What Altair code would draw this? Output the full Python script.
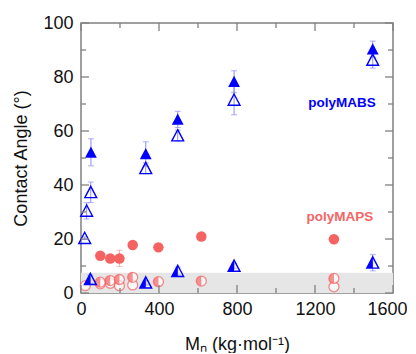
import altair as alt
import pandas as pd

# ---------------- data ----------------
mabs_adv_x = [51, 332, 496, 785, 1496]
mabs_adv_y = [52.1, 51.5, 64.3, 78.3, 90.3]
mabs_adv_e = [5.0, 4.5, 3.0, 4.0, 3.0]

mabs_rec_x = [19, 29, 50, 332, 496, 785, 1496]
mabs_rec_y = [20.3, 30.4, 37.3, 46.2, 58.3, 71.5, 86.3]
mabs_rec_e = [0.5, 3.0, 3.8, 2.0, 2.0, 5.5, 3.0]

mabs_st_x = [48, 332, 496, 785, 1496]
mabs_st_y = [5.1, 3.8, 8.1, 10.0, 11.2]
mabs_st_e = [1.5, 0.8, 1.5, 1.0, 3.0]

maps_adv_x = [99, 150, 197, 265, 397, 617, 1297]
maps_adv_y = [13.8, 12.8, 12.8, 17.8, 16.9, 20.9, 19.9]
maps_adv_e = [0.5, 0.8, 3.0, 0.5, 0.5, 0.5, 0.8]

maps_st_x = [99, 150, 197, 265, 397, 617, 1297]
maps_st_y = [4.0, 4.6, 5.0, 5.8, 4.2, 4.4, 5.4]

maps_rec_x = [22, 99, 150, 197, 265, 1297]
maps_rec_y = [2.7, 3.4, 3.6, 2.7, 3.0, 2.3]

band_x = [0, 1600]
band_y = [0, 7.5]

x_major = [0, 400, 800, 1200, 1600]
x_minor = [200, 600, 1000, 1400]
y_major = [0, 20, 40, 60, 80, 100]
y_minor = [10, 30, 50, 70, 90]

labels_text = ["polyMABS", "polyMAPS"]
labels_x = [1339, 1328]
labels_y = [70.4, 28.1]
labels_color = ["#0000ff", "#f56565"]

# ---------------- styling ----------------
W, H = 312, 270
RIGHT_PAD = 14
BLUE = "#0000ff"
RED = "#f56262"
BLUE_ERR = "#8c8cff"
RED_ERR = "#f8a8a8"
FRAME = "#808080"
FONT = "Liberation Sans"

TRI = "M0,-1L1,0.9L-1,0.9Z"
TRI_LEFT = "M0,-1L0,0.9L-1,0.9Z"
CIRC_LEFT = "M0,-1A1,1 0 0,0 0,1Z"

xs = alt.Scale(domain=[0, 1600], nice=False, zero=False)
ys = alt.Scale(domain=[0, 100], nice=False, zero=False)


def df(x, y, e=None):
    d = pd.DataFrame({"x": x, "y": y})
    if e is not None:
        d["lo"] = [a - b for a, b in zip(y, e)]
        d["hi"] = [a + b for a, b in zip(y, e)]
    return d


last_tick = f"datum.value == {x_major[-1]}"
X = alt.X("x:Q", scale=xs,
          axis=alt.Axis(values=x_major, format="d", labelFlush=False, labelOverlap=False,
                        labelAlign={"condition": {"test": last_tick, "value": "right"}, "value": "center"},
                        labelOffset={"condition": {"test": last_tick, "value": RIGHT_PAD}, "value": 0},
                        ticks=False, tickSize=0, domain=False, grid=False,
                        labelPadding=7, labelFontSize=18, labelFont=FONT, labelColor="#111",
                        title="Mₙ (kg·mol⁻¹)", titleFont=FONT, titleFontSize=18,
                        titleFontWeight="normal", titleColor="#111", titlePadding=17))
Y = alt.Y("y:Q", scale=ys,
          axis=alt.Axis(values=y_major, format="d", labelFlush=False, labelOverlap=False,
                        ticks=False, tickSize=0, domain=False, grid=False,
                        labelPadding=8, labelFontSize=18, labelFont=FONT, labelColor="#111",
                        title="Contact Angle (°)", titleFont=FONT, titleFontSize=18,
                        titleFontWeight="normal", titleColor="#111", titlePadding=12))

# gray band
band = alt.Chart(pd.DataFrame({"x": [band_x[0]], "x2": [band_x[1]],
                               "y": [band_y[0]], "y2": [band_y[1]]})).mark_rect(
    color="#e6e6e6").encode(x=X, x2="x2:Q", y=Y, y2="y2:Q")


def errbars(d, color):
    r = alt.Chart(d).mark_rule(color=color, strokeWidth=1).encode(
        x=alt.X("x:Q", scale=xs), y=alt.Y("lo:Q", scale=ys), y2="hi:Q")
    t1 = alt.Chart(d).mark_tick(color=color, thickness=1, size=6, orient="horizontal").encode(
        x=alt.X("x:Q", scale=xs), y=alt.Y("lo:Q", scale=ys))
    t2 = alt.Chart(d).mark_tick(color=color, thickness=1, size=6, orient="horizontal").encode(
        x=alt.X("x:Q", scale=xs), y=alt.Y("hi:Q", scale=ys))
    return [r, t1, t2]


d_mabs_adv = df(mabs_adv_x, mabs_adv_y, mabs_adv_e)
d_mabs_rec = df(mabs_rec_x, mabs_rec_y, mabs_rec_e)
d_mabs_st = df(mabs_st_x, mabs_st_y, mabs_st_e)
d_maps_adv = df(maps_adv_x, maps_adv_y, maps_adv_e)
d_maps_st = df(maps_st_x, maps_st_y)
d_maps_rec = df(maps_rec_x, maps_rec_y)

layers = [band]
layers += errbars(d_mabs_adv, BLUE_ERR)
layers += errbars(d_mabs_rec, BLUE_ERR)
layers += errbars(d_mabs_st, BLUE_ERR)
layers += errbars(d_maps_adv, RED_ERR)

PX = alt.X("x:Q", scale=xs)
PY = alt.Y("y:Q", scale=ys)

CS = 100   # circle size
TS = 140   # triangle size

# polyMAPS circles
layers.append(alt.Chart(d_maps_rec).mark_point(shape="circle", size=CS, filled=True, fill="white",
                                               stroke=RED, strokeWidth=1.3).encode(x=PX, y=PY))
layers.append(alt.Chart(d_maps_st).mark_point(shape="circle", size=CS, filled=True, fill="white",
                                              stroke=RED, strokeWidth=1.3).encode(x=PX, y=PY))
layers.append(alt.Chart(d_maps_st).mark_point(shape=CIRC_LEFT, size=CS, filled=True, fill=RED,
                                              strokeWidth=0).encode(x=PX, y=PY))
layers.append(alt.Chart(d_maps_adv).mark_point(shape="circle", size=CS + 10, filled=True, fill=RED,
                                               opacity=1).encode(x=PX, y=PY))

# polyMABS triangles
layers.append(alt.Chart(d_mabs_rec).mark_point(shape=TRI, size=TS, filled=False, stroke=BLUE,
                                               strokeWidth=1.4, opacity=1).encode(x=PX, y=PY))
layers.append(alt.Chart(d_mabs_st).mark_point(shape=TRI_LEFT, size=TS, filled=True, fill=BLUE,
                                              strokeWidth=0, opacity=1).encode(x=PX, y=PY))
layers.append(alt.Chart(d_mabs_st).mark_point(shape=TRI, size=TS, filled=False, stroke=BLUE,
                                              strokeWidth=1.4, opacity=1).encode(x=PX, y=PY))
layers.append(alt.Chart(d_mabs_adv).mark_point(shape=TRI, size=TS, filled=True, fill=BLUE,
                                               opacity=1).encode(x=PX, y=PY))

# series labels
lab = pd.DataFrame({"t": labels_text, "x": labels_x, "y": labels_y, "c": labels_color})
layers.append(alt.Chart(lab).mark_text(font=FONT, fontSize=13.5, fontWeight="bold").encode(
    x=PX, y=PY, text="t:N", color=alt.Color("c:N", scale=None)))

# inward ticks (frame)
tk = dict(color=FRAME, strokeWidth=1.3)
xmaj = pd.DataFrame({"x": x_major})
xmin = pd.DataFrame({"x": x_minor})
ymaj = pd.DataFrame({"y": y_major})
ymin = pd.DataFrame({"y": y_minor})
for d, L in [(xmaj, 8), (xmin, 5)]:
    layers.append(alt.Chart(d).mark_rule(**tk).encode(x=PX, y=alt.value(H), y2=alt.value(H - L)))
    layers.append(alt.Chart(d).mark_rule(**tk).encode(x=PX, y=alt.value(0), y2=alt.value(L)))
for d, L in [(ymaj, 8), (ymin, 5)]:
    layers.append(alt.Chart(d).mark_rule(**tk).encode(y=PY, x=alt.value(0), x2=alt.value(L)))
    layers.append(alt.Chart(d).mark_rule(**tk).encode(y=PY, x=alt.value(W), x2=alt.value(W - L)))

chart = alt.layer(*layers).properties(
    width=W, height=H,
    autosize=alt.AutoSizeParams(type="none"),
    padding={"left": 73, "top": 15, "right": RIGHT_PAD, "bottom": 60},
    background="white",
).configure_view(stroke=FRAME, strokeWidth=1.5)

chart.save("out.html", embed_options={"renderer": "svg", "actions": False})
